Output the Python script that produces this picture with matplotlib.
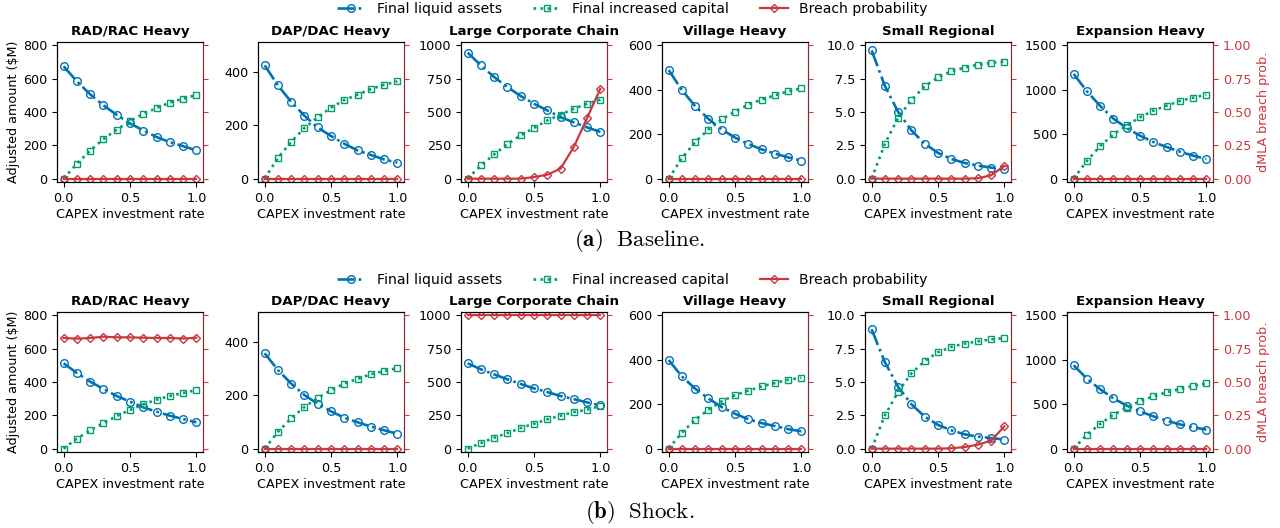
import matplotlib.pyplot as plt

plt.rcParams["mathtext.fontset"] = "cm"

# ===================================================================
# Data: portfolio scenarios swept over CAPEX investment rate
# ===================================================================
rates = [0.0, 0.1, 0.2, 0.3, 0.4, 0.5, 0.6, 0.7, 0.8, 0.9, 1.0]
portfolios = ["RAD/RAC Heavy", "DAP/DAC Heavy", "Large Corporate Chain",
              "Village Heavy", "Small Regional", "Expansion Heavy"]

# upper end of the left axis for each portfolio (matches breach prob = 1)
amount_top = [800, 500, 1000, 600, 10, 1500]

# Baseline run
base_liquid = [
    [674, 584, 506, 440, 383, 332, 289, 250, 219, 195, 170],
    [425, 350, 288, 236, 192, 160, 131, 106, 89, 72, 60],
    [945, 850, 762, 687, 620, 562, 512, 462, 422, 385, 350],
    [489, 399, 326, 269, 221, 185, 156, 132, 113, 96, 81],
    [9.62, 6.95, 5.0, 3.62, 2.62, 1.93, 1.48, 1.18, 0.98, 0.83, 0.70],
    [1178, 983, 818, 675, 570, 484, 413, 356, 304, 259, 221],
]
base_capital = [
    [0, 90, 168, 238, 294, 346, 388, 424, 456, 480, 502],
    [0, 78, 138, 190, 230, 266, 295, 315, 336, 352, 365],
    [0, 100, 182, 260, 325, 380, 437, 480, 525, 562, 592],
    [0, 93, 165, 221, 267, 302, 333, 356, 375, 393, 407],
    [0, 2.62, 4.58, 5.9, 6.93, 7.6, 8.05, 8.33, 8.55, 8.68, 8.78],
    [0, 199, 368, 499, 600, 690, 765, 821, 874, 911, 945],
]
base_breach = [
    [0, 0, 0, 0, 0, 0, 0, 0, 0, 0, 0],
    [0, 0, 0, 0, 0, 0, 0, 0, 0, 0, 0],
    [0, 0, 0, 0, 0, 0.012, 0.03, 0.075, 0.238, 0.455, 0.675],
    [0, 0, 0, 0, 0, 0, 0, 0, 0, 0, 0],
    [0, 0, 0, 0, 0, 0, 0, 0, 0.003, 0.025, 0.095],
    [0, 0, 0, 0, 0, 0, 0, 0, 0, 0, 0],
]

# Shock run
shock_liquid = [
    [512, 454, 402, 358, 316, 282, 248, 222, 198, 178, 158],
    [358, 295, 244, 201, 168, 140, 116, 99, 83, 69, 56],
    [640, 595, 557, 520, 485, 452, 425, 395, 372, 347, 325],
    [399, 325, 270, 226, 187, 157, 133, 115, 102, 88, 78],
    [8.95, 6.48, 4.63, 3.33, 2.4, 1.78, 1.38, 1.08, 0.9, 0.8, 0.68],
    [938, 788, 668, 566, 484, 420, 364, 315, 274, 240, 214],
]
shock_capital = [
    [0, 60, 110, 154, 196, 232, 266, 294, 316, 334, 352],
    [0, 63, 114, 156, 190, 219, 244, 262, 279, 291, 302],
    [0, 42, 82, 117, 155, 187, 220, 247, 275, 292, 320],
    [0, 72, 130, 175, 213, 241, 261, 280, 295, 310, 319],
    [0, 2.5, 4.28, 5.65, 6.58, 7.23, 7.63, 7.88, 8.05, 8.2, 8.3],
    [0, 158, 278, 383, 461, 536, 589, 634, 671, 705, 735],
]
shock_breach = [
    [0.83, 0.825, 0.83, 0.84, 0.835, 0.835, 0.832, 0.83, 0.83, 0.826, 0.832],
    [0, 0, 0, 0, 0, 0, 0, 0, 0, 0, 0],
    [1, 1, 1, 1, 1, 1, 1, 1, 1, 1, 1],
    [0, 0, 0, 0, 0, 0, 0, 0, 0, 0, 0],
    [0, 0, 0, 0, 0, 0, 0.003, 0.012, 0.03, 0.06, 0.168],
    [0, 0, 0, 0, 0, 0, 0, 0, 0, 0, 0],
]

# ===================================================================
# Plot
# ===================================================================
BLUE = "#0072B2"
GREEN = "#009E73"
RED = "#C9383E"

fig = plt.figure(figsize=(12.8, 5.28), dpi=100)
W, H = 1280, 528
lefts = [57, 258, 461, 662, 865, 1067]  # pixel x of each panel


def draw_row(liquid, capital, breach, top_px, legend_y, caption, caption_y):
    handles = None
    for i, name in enumerate(portfolios):
        ax = fig.add_axes([lefts[i] / W, 1 - (top_px + 140) / H, 146 / W, 140 / H])
        ax2 = ax.twinx()
        m = amount_top[i]

        l1, = ax.plot(rates, liquid[i], "-.", color=BLUE, lw=1.9, marker="o",
                      ms=5.5, mfc="none", mew=1.0)
        l2, = ax.plot(rates, capital[i], ":", color=GREEN, lw=1.9, marker="s",
                      ms=5, mfc="none", mew=1.0)
        l3, = ax2.plot(rates, breach[i], "-", color=RED, lw=1.6, marker="D",
                       ms=4.5, mfc="none", mew=1.0)
        handles = [l1, l2, l3]

        ax.set_ylim(-0.025 * m, 1.025 * m)
        ax2.set_ylim(-0.025, 1.025)
        ax.set_xticks([0.0, 0.5, 1.0])
        ax.tick_params(labelsize=9.2)
        ax.set_title(name, fontsize=9.6, fontweight="bold", pad=5)
        ax.set_xlabel("CAPEX investment rate", fontsize=9.2, labelpad=2)

        ax2.set_yticks([0, 0.25, 0.5, 0.75, 1.0])
        ax2.tick_params(axis="y", colors=RED, labelsize=9.2)
        ax2.spines["right"].set_color(RED)
        ax2.spines["right"].set_alpha(0.7)
        if i == 0:
            ax.set_ylabel(r"Adjusted amount (\$M)", fontsize=9.2, labelpad=2)
        if i == len(portfolios) - 1:
            ax2.set_ylabel("dMLA breach prob.", fontsize=9.2, color=RED)
        else:
            ax2.set_yticklabels([])

    fig.legend(handles, ["Final liquid assets", "Final increased capital",
                         "Breach probability"],
               loc="center", bbox_to_anchor=(0.494, legend_y), ncol=3,
               frameon=False, fontsize=10.1, columnspacing=2.2,
               handlelength=2.0, borderaxespad=0)
    fig.text(0.5, caption_y, caption, ha="center", va="center", fontsize=16.5)


draw_row(base_liquid, base_capital, base_breach, 42, 1 - 9 / H,
         r"$\mathbf{(a)}\ \ \mathrm{Baseline.}$", 1 - 240 / H)
draw_row(shock_liquid, shock_capital, shock_breach, 312, 1 - 280 / H,
         r"$\mathbf{(b)}\ \ \mathrm{Shock.}$", 1 - 512 / H)

fig.savefig("out.png", dpi=100)
